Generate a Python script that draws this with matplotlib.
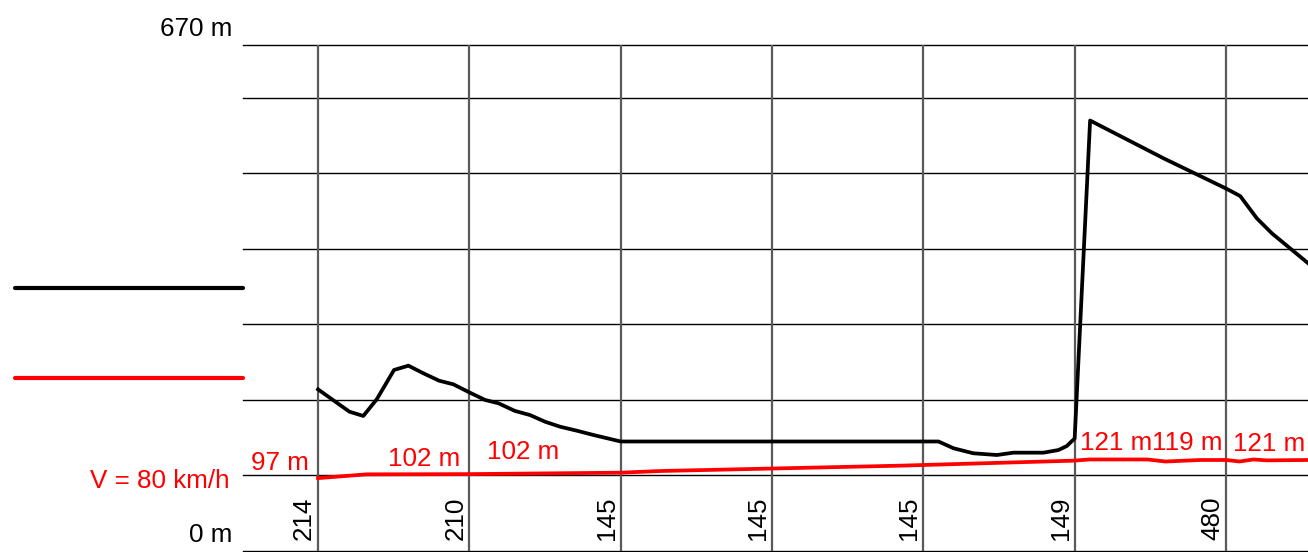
import matplotlib
matplotlib.use('Agg')
import matplotlib.pyplot as plt
from matplotlib.lines import Line2D

plt.rcParams['font.family'] = ['Liberation Sans', 'DejaVu Sans']

# Chainage (m) and values (m)
sight_x = [0, 20.7, 29.9, 38.8, 50.2, 59.7, 69.6, 80, 89.4, 100, 110.4, 119.2,
           130.2, 140.1, 150, 159.9, 171, 182, 200, 410, 420, 433, 448.6,
           459.5, 479.4, 489.3, 494.8, 500, 510.2, 558.7, 600, 609.4, 620.4,
           630.3, 654.3]
sight_y = [214, 184.5, 178.8, 200.9, 239.7, 245.4, 235.3, 225.5, 220.7, 210,
           200, 195.6, 185.4, 180, 171.2, 164.6, 159.3, 153.6, 145, 145, 136,
           129.4, 127.1, 130.2, 130.2, 133.7, 139, 149, 570, 520, 480, 470,
           440.5, 420.7, 381]

required_x = [0, 32, 100, 200, 226, 385, 499, 510, 548, 560, 583, 600, 609,
              618, 627, 654.3]
required_y = [96.5, 101.5, 101.8, 103.7, 105.9, 113, 119.6, 121.2, 121.2,
              118.5, 120.5, 120.5, 118.5, 121.2, 120, 120.5]

stations = [0, 100, 200, 300, 400, 500, 600]
station_labels = [214, 210, 145, 145, 145, 149, 480]

red_label_vals = [97, 102, 102, 121, 119, 121]

y_levels = [0, 100, 200, 300, 400, 500, 600, 670]

FS = 18.7
RED = '#ff0000'

fig = plt.figure(figsize=(13.08, 5.52), dpi=100)
ax = fig.add_axes([243 / 1308, 1 / 552, 1065 / 1308, 506 / 552])
ax.set_xlim(-49.6, 654.2)
ax.set_ylim(0, 670)
ax.axis('off')

# grid
for y in y_levels:
    ax.axhline(y, color='black', lw=1.0, zorder=1, clip_on=False)
for x in stations:
    ax.axvline(x, color='#5a5a5a', lw=1.6, zorder=1)

# profiles
ax.plot(sight_x, sight_y, color='black', lw=2.7, zorder=3)
ax.plot(required_x, required_y, color=RED, lw=2.7, zorder=3)

# station values, rotated, just left of each vertical line
for x, v in zip(stations, station_labels):
    ax.annotate(str(v), xy=(x, 0), xytext=(-2, 11), textcoords='offset pixels',
                rotation=90, ha='right', va='bottom', fontsize=FS,
                color='black')

# red value labels
red_pos = [(-5.9, 107.3, 'right'), (93.9, 112.5, 'right'),
           (111.7, 121.8, 'left'), (503.6, 133.7, 'left'),
           (597.5, 133.7, 'right'), (604.8, 132.4, 'left')]
for v, (x, y, ha) in zip(red_label_vals, red_pos):
    ax.text(x, y, f'{v} m', color=RED, fontsize=FS, ha=ha, va='baseline',
            clip_on=False)

# left-hand labels
fig.text(232 / 1308, (552 - 36) / 552, '670 m', ha='right', va='baseline',
         fontsize=FS)
fig.text(232 / 1308, (552 - 542) / 552, '0 m', ha='right', va='baseline',
         fontsize=FS)
fig.text(230 / 1308, (552 - 488) / 552, 'V = 80 km/h', ha='right',
         va='baseline', fontsize=FS, color=RED)

# legend swatches
fig.add_artist(Line2D([15 / 1308, 243 / 1308], [(552 - 288) / 552] * 2,
                      color='black', lw=3.0, solid_capstyle='round'))
fig.add_artist(Line2D([15 / 1308, 243 / 1308], [(552 - 378) / 552] * 2,
                      color=RED, lw=3.0, solid_capstyle='round'))

fig.savefig('out.png', dpi=100)
